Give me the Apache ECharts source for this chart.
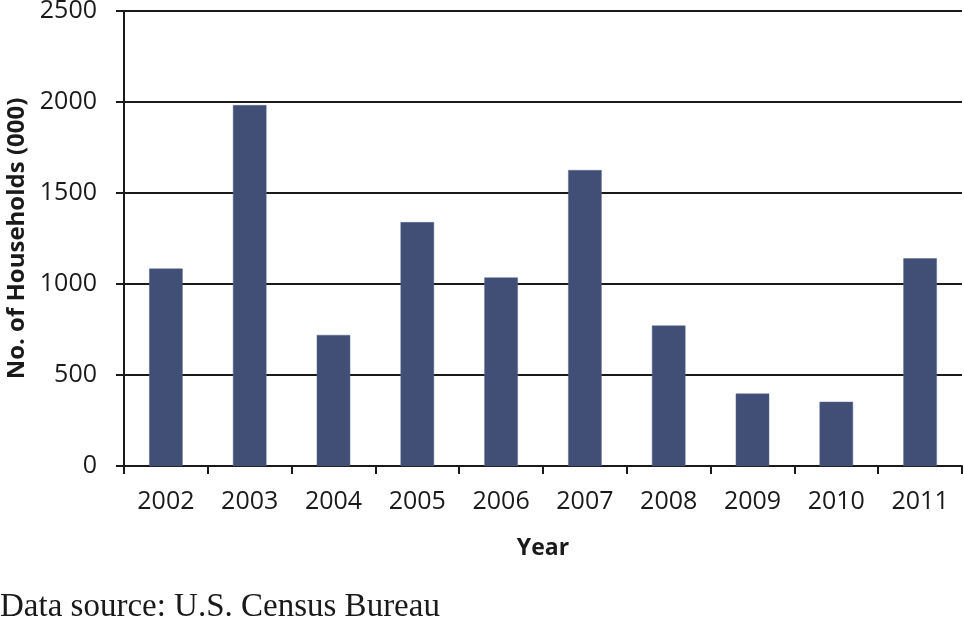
<!DOCTYPE html>
<html>
<head>
<meta charset="utf-8">
<script src="https://cdn.jsdelivr.net/npm/echarts@6/dist/echarts.min.js"></script>
<style>html,body{margin:0;padding:0;background:#fff;}#c{width:964px;height:629px;}</style>
</head>
<body>
<div id="c"></div>
<script>
var years = ['2002','2003','2004','2005','2006','2007','2008','2009','2010','2011'];
var households = [1085, 1983, 720, 1340, 1036, 1626, 772, 398, 353, 1141];
var yTicks = {min: 0, max: 2500, interval: 500};
var yTitle = 'No. of Households (000)';
var xTitle = 'Year';
var sourceNote = 'Data source: U.S. Census Bureau';

var chart = echarts.init(document.getElementById('c'), null, {renderer: 'canvas'});
var labelFont = '"Open Sans", "DejaVu Sans", sans-serif';
chart.setOption({
  animation: false,
  backgroundColor: '#fff',
  grid: {left: 124, right: 2, top: 11, bottom: 163, containLabel: false, outerBoundsMode: 'none'},
  xAxis: {
    type: 'category',
    data: years,
    name: xTitle,
    nameLocation: 'middle',
    nameGap: 71,
    nameTextStyle: {fontFamily: labelFont, fontWeight: 'bold', fontSize: 23, color: '#1a1a1a'},
    axisLine: {lineStyle: {color: '#1a1a1a', width: 2}},
    axisTick: {show: true, length: 8, lineStyle: {color: '#1a1a1a', width: 2}, alignWithLabel: false},
    axisLabel: {fontFamily: labelFont, fontSize: 25, color: '#1a1a1a', margin: 23}
  },
  yAxis: {
    type: 'value',
    min: yTicks.min, max: yTicks.max, interval: yTicks.interval,
    name: yTitle,
    nameLocation: 'middle',
    nameGap: 94,
    nameRotate: 90,
    nameTextStyle: {fontFamily: labelFont, fontWeight: 'bold', fontSize: 24, color: '#1a1a1a'},
    axisLine: {show: true, lineStyle: {color: '#1a1a1a', width: 2}},
    axisTick: {show: true, inside: false, length: 8, lineStyle: {color: '#1a1a1a', width: 2}},
    axisLabel: {fontFamily: labelFont, fontSize: 25, color: '#1a1a1a', margin: 27,
      formatter: function (v) { return String(v); }},
    splitLine: {show: true, lineStyle: {color: '#1a1a1a', width: 2}}
  },
  series: [{
    type: 'bar',
    data: households,
    barWidth: '40%',
    itemStyle: {color: '#414f77', borderColor: '#5a6892', borderWidth: 0.5}
  }],
  graphic: [{
    type: 'text',
    left: 0,
    top: 591,
    style: {text: sourceNote, font: '33px "Liberation Serif", "DejaVu Serif", serif', fill: '#1a1a1a'}
  }]
});
</script>
</body>
</html>
